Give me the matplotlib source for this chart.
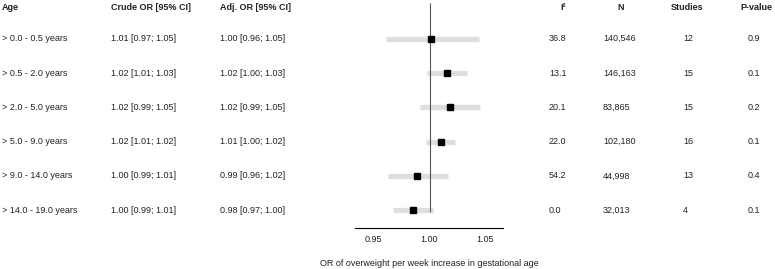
import numpy as np
import matplotlib
matplotlib.use("Agg")
import matplotlib.pyplot as plt
from matplotlib.transforms import blended_transform_factory

plt.rcParams['font.family'] = ['Liberation Sans', 'DejaVu Sans']

# table data
age_groups = ["> 0.0 - 0.5 years", "> 0.5 - 2.0 years", "> 2.0 - 5.0 years",
              "> 5.0 - 9.0 years", "> 9.0 - 14.0 years", "> 14.0 - 19.0 years"]
crude_txt = ["1.01 [0.97; 1.05]", "1.02 [1.01; 1.03]", "1.02 [0.99; 1.05]",
             "1.02 [1.01; 1.02]", "1.00 [0.99; 1.01]", "1.00 [0.99; 1.01]"]
adj_txt = ["1.00 [0.96; 1.05]", "1.02 [1.00; 1.03]", "1.02 [0.99; 1.05]",
           "1.01 [1.00; 1.02]", "0.99 [0.96; 1.02]", "0.98 [0.97; 1.00]"]
i2 = ["36.8", "13.1", "20.1", "22.0", "54.2", "0.0"]
n_obs = ["140,546", "146,163", "83,865", "102,180", "44,998", "32,013"]
studies = ["12", "15", "15", "16", "13", "4"]
pvals = ["0.9", "0.1", "0.2", "0.1", "0.4", "0.1"]

# adjusted OR estimates used for the forest plot
adj_or = np.array([1.001, 1.016, 1.018, 1.010, 0.989, 0.985])
adj_lo = np.array([0.9615, 0.9975, 0.9915, 0.9969, 0.9627, 0.9677])
adj_hi = np.array([1.0442, 1.0335, 1.0453, 1.0228, 1.0163, 1.0031])

W, H = 775, 269
fig = plt.figure(figsize=(W / 100, H / 100), dpi=100)

# forest axes (pixel geometry from the reference)
ax_l, ax_r, ax_bot = 355, 503, 227.7
ax = fig.add_axes([ax_l / W, (H - ax_bot) / H, (ax_r - ax_l) / W, ax_bot / H])
row0, step = 38.7, 34.3
ax.set_ylim((ax_bot - row0) / step, -row0 / step)
ax.set_xlim(1.0 - (429.5 - ax_l) / 56 * 0.05, 1.0 + (ax_r - 429.5) / 56 * 0.05)

rows = np.arange(len(age_groups))
ax.hlines(rows, adj_lo, adj_hi, color='#dedede', lw=3.8, zorder=1)
ax.vlines(1.0, (3 - row0) / step, (212 - row0) / step, color='#555555', lw=0.8, zorder=2)
ax.plot(adj_or, rows, 's', color='black', markersize=5, zorder=3)

for s in ['top', 'right', 'left']:
    ax.spines[s].set_visible(False)
ax.spines['bottom'].set_linewidth(0.8)
ax.set_yticks([])
ax.set_xticks([0.95, 1.00, 1.05])
ax.set_xticklabels(['0.95', '1.00', '1.05'])
ax.tick_params(axis='x', length=0, pad=5, labelsize=6.5, labelcolor='#222222')
ax.patch.set_alpha(0)

fig.text(429 / W, 1 - 264 / H, "OR of overweight per week increase in gestational age",
         ha='center', va='center', fontsize=6.5, color='#222222')

# table text
tr = blended_transform_factory(fig.transFigure, ax.transData)
hdr_y = (7 - row0) / step
fs = 6.5
headers = [("Age", 2, 'left'), ("Crude OR [95% CI]", 111, 'left'),
           ("Adj. OR [95% CI]", 220, 'left'), ("I²", 563, 'center'),
           ("N", 620.7, 'center'), ("Studies", 687, 'center'),
           ("P-value", 756.7, 'center')]
for txt, x, ha in headers:
    ax.text(x / W, hdr_y, txt, transform=tr, ha=ha, va='center',
            fontsize=fs, fontweight='bold', color='#222222', clip_on=False)

cols = [(age_groups, 2), (crude_txt, 111), (adj_txt, 220), (i2, 549),
        (n_obs, 603), (studies, 683), (pvals, 747.7)]
for values, x in cols:
    for r, v in zip(rows, values):
        ax.text(x / W, r, v, transform=tr, ha='left', va='center',
                fontsize=fs, color='#222222', clip_on=False)

fig.savefig("out.png", dpi=100)
